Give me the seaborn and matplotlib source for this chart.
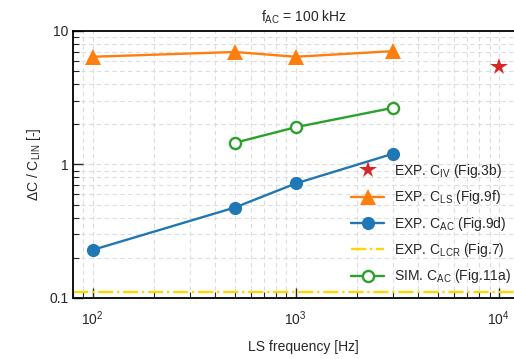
import numpy as np
import pandas as pd
import matplotlib
matplotlib.use("Agg")
import matplotlib.pyplot as plt
import matplotlib.ticker as mticker
import seaborn as sns

# data
freq_ls = [100, 500, 1000, 3000]
c_ls = [6.4, 6.95, 6.4, 7.05]
freq_ac = [100, 500, 1000, 3000]
c_ac = [0.229, 0.475, 0.72, 1.2]
freq_sim = [500, 1000, 3000]
c_sim = [1.45, 1.9, 2.65]
freq_iv = [10000]
c_iv = [5.4]
c_lcr = 0.111

sns.set_style("ticks")
plt.rcParams["font.family"] = ["Liberation Sans", "DejaVu Sans"]
plt.rcParams["mathtext.default"] = "regular"
plt.rcParams["font.size"] = 8.5

fig = plt.figure(figsize=(5.14, 3.59), dpi=100)
ax = fig.add_axes([0.142, 0.170, 0.898, 0.744])

ax.set_xscale("log")
ax.set_yscale("log")
ax.set_xlim(80, 15000)
ax.set_ylim(0.1, 10)

ax.grid(True, which="both", ls=(0, (4, 3)), color="#dddddd", lw=0.8)
ax.set_axisbelow(True)

sns.lineplot(x=freq_iv, y=c_iv, ax=ax, color="#d62728", marker="*", markersize=13,
             markeredgewidth=0, linestyle="none", label=r"EXP. C$_{IV}$ (Fig.3b)")
sns.lineplot(x=freq_ls, y=c_ls, ax=ax, color="#ff7f0e", marker="^", markersize=11,
             markeredgewidth=0, lw=1.7, label=r"EXP. C$_{LS}$ (Fig.9f)")
sns.lineplot(x=freq_ac, y=c_ac, ax=ax, color="#1f77b4", marker="o", markersize=9.5,
             markeredgewidth=0, lw=1.7, label=r"EXP. C$_{AC}$ (Fig.9d)")
ax.axhline(c_lcr, color="#ffd700", lw=1.7, ls="-.", label=r"EXP. C$_{LCR}$ (Fig.7)")
sns.lineplot(x=freq_sim, y=c_sim, ax=ax, color="#2ca02c", marker="o", markersize=8,
             markerfacecolor="white", markeredgecolor="#2ca02c", markeredgewidth=1.7,
             lw=1.7, label=r"SIM. C$_{AC}$ (Fig.11a)")

ax.yaxis.set_major_formatter(mticker.FuncFormatter(lambda v, p: f"{v:g}"))
ax.tick_params(which="major", direction="in", length=7, width=1, labelsize=10)
ax.tick_params(axis="x", which="major", pad=8)
ax.tick_params(which="minor", direction="in", length=4, width=0.8)
for s in ["left", "bottom", "top"]:
    ax.spines[s].set_linewidth(1.3)
    ax.spines[s].set_color("black")

ax.set_xlabel("LS frequency [Hz]", fontsize=10, labelpad=9)
ax.set_ylabel(r"ΔC / C$_{LIN}$ [-]", fontsize=10)
ax.set_title(r"f$_{AC}$ = 100 kHz", fontsize=10, pad=7)

leg = ax.legend(loc="lower left", bbox_to_anchor=(0.575, 0.0), frameon=False,
                fontsize=10, labelspacing=0.6, handlelength=2.4, handletextpad=0.7)

fig.savefig("out.png", dpi=100)
